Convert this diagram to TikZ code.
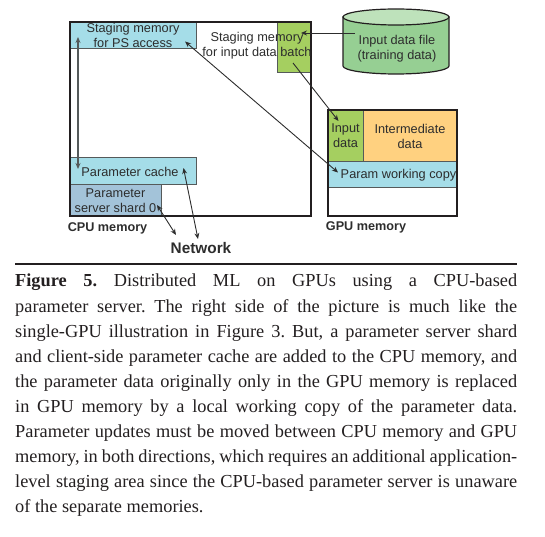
\documentclass[tikz,border=0pt]{standalone}
\usepackage{fontspec}
\setmainfont{Liberation Serif}
\setsansfont{Liberation Sans}
\usepackage{xcolor}
\usepackage{tikz}
\usetikzlibrary{arrows.meta}
\definecolor{memblack} {RGB}{ 35, 31, 32}
\definecolor{boxgray}  {RGB}{ 85, 90, 90}
\definecolor{txtgray}  {RGB}{ 45, 45, 45}
\definecolor{rowcyan}  {RGB}{165,221,232}
\definecolor{rowgreen} {RGB}{165,207, 96}
\definecolor{roworange}{RGB}{255,209,128}
\definecolor{rowshard} {RGB}{163,195,217}
\definecolor{cylbody}  {RGB}{150,207,147}
\definecolor{cyltop}   {RGB}{190,226,187}
\tikzset{
  mem/.style={draw=memblack,line width=2.2bp,inner sep=0pt},
  blk/.style={draw=boxgray,line width=1bp,inner sep=0pt,align=center,
              font=\sffamily\fontsize{12.8}{15}\selectfont,text=txtgray},
  blkcyan/.style={blk,fill=rowcyan},
  blkgreen/.style={blk,fill=rowgreen},
  blkorange/.style={blk,fill=roworange},
  blkshard/.style={blk,fill=rowshard},
  lbl/.style={inner sep=0pt,align=center,
              font=\sffamily\fontsize{12.8}{15}\selectfont,text=txtgray},
  lblbold/.style={inner sep=0pt,text=txtgray,
              font=\sffamily\bfseries\fontsize{12.7}{14}\selectfont},
  arr/.style={-{Stealth[length=6bp,width=5bp]},line width=0.9bp,color=txtgray},
  arrboth/.style={arr,{Stealth[length=6bp,width=5bp]}-{Stealth[length=6bp,width=5bp]}},
  cyl/.style={draw=memblack,line width=1.2bp},
}
\begin{document}
\begin{tikzpicture}[x=1bp,y=-1bp]
  \useasboundingbox (0,0) rectangle (545,537);
  \node[blkcyan,minimum width=126bp,minimum height=27bp](psstage) at (133,35.5){Staging memory\\for PS access};
  \node[blkgreen,minimum width=34bp,minimum height=51bp](batch) at (294,47.5){};
  \node[blkcyan,minimum width=126bp,minimum height=27bp](cache) at (133,171.5){Parameter cache\hspace*{6bp}};
  \node[blkshard,minimum width=91bp,minimum height=31bp](shard) at (115.5,200.5){Parameter\\server shard 0};
  \node[mem,minimum width=241bp,minimum height=194bp](cpu) at (190.5,119){};
  \node[lbl](batchlbl) at (257,45.5){Staging memory\\for input data batch};
  \draw[cyl,fill=cylbody](343,17)--(343,66) arc[start angle=180,end angle=360,x radius=53bp,y radius=8bp]--(449,17)--cycle;
  \draw[cyl,fill=cyltop](396,17) ellipse[x radius=53bp,y radius=8bp];
  \node[lbl](datafile) at (397,48.5){Input data file\\(training data)};
  \node[blkgreen,minimum width=35bp,minimum height=52bp](gpuinput) at (345.5,136){Input\\data};
  \node[blkorange,minimum width=94bp,minimum height=52bp](interm) at (410,136){Intermediate\\data};
  \node[blkcyan,minimum width=129bp,minimum height=26bp](workcopy) at (392.5,175){\hspace*{12bp}Param working copy};
  \node[mem,minimum width=129bp,minimum height=106bp](gpu) at (392.5,163){};
  \node[lblbold](cpulbl) at (107.5,228){CPU memory};
  \node[lblbold](gpulbl) at (366,227){GPU memory};
  \node[lblbold,font=\sffamily\bfseries\fontsize{15.4}{17}\selectfont](netlbl) at (201,248){Network};
  \coordinate (pstop) at (78,37);
  \coordinate (cachelft) at (78,169);
  \coordinate (psport) at (185,41.5);
  \coordinate (copyport) at (338,172.5);
  \coordinate (fileout) at (355,33);
  \coordinate (batchin) at (301,33);
  \coordinate (batchout) at (293,63);
  \coordinate (inputin) at (338.5,121);
  \coordinate (cacheport) at (183.5,168);
  \coordinate (netright) at (198,239);
  \coordinate (shardport) at (157,205);
  \coordinate (netleft) at (176,235);
  \draw[arrboth,line width=1.3bp,color=boxgray](pstop)--(cachelft);
  \draw[arrboth](psport)--(copyport);
  \draw[arr](fileout)--(batchin);
  \draw[arr](batchout)--(inputin);
  \draw[arrboth](cacheport)--(netright);
  \draw[arrboth](shardport)--(netleft);
  \coordinate (rulelft) at (15,264);
  \coordinate (rulergt) at (517,264);
  \draw[line width=1.2bp,color=memblack](rulelft)--(rulergt);
  \node[inner sep=0pt,anchor=north west,text width=502bp,align=justify,text=memblack,
        font=\frenchspacing\fontsize{18.4}{25.2}\selectfont](caption) at (15,274){%
    \textbf{Figure 5.} Distributed ML on GPUs using a CPU-based\linebreak
    parameter server. The right side of the picture is much like the\linebreak
    single-GPU illustration in Figure 3. But, a parameter server shard\linebreak
    and client-side parameter cache are added to the CPU memory, and\linebreak
    the parameter data originally only in the GPU memory is replaced\linebreak
    in GPU memory by a local working copy of the parameter data.\linebreak
    Parameter updates must be moved between CPU memory and GPU\linebreak
    memory, in both directions, which requires an additional application-\linebreak
    level staging area since the CPU-based parameter server is unaware\linebreak
    of the separate memories.};
\end{tikzpicture}
\end{document}
